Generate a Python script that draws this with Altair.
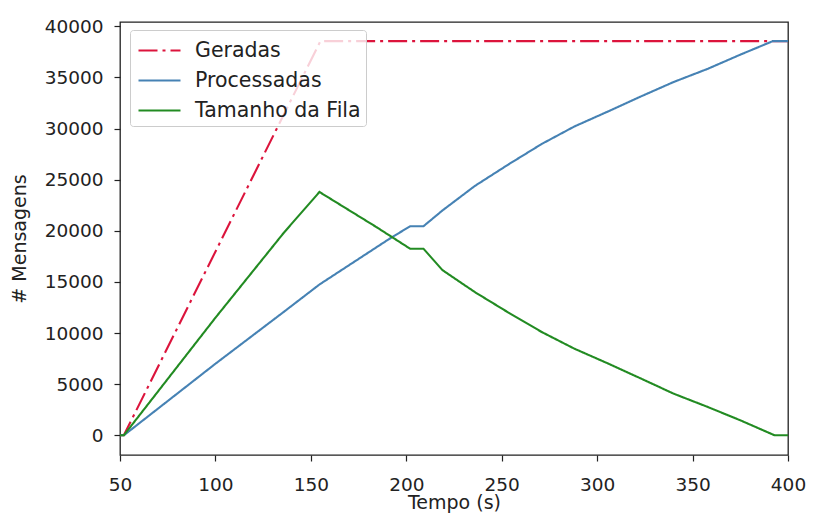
import altair as alt
import pandas as pd

series_names = ["Geradas", "Processadas", "Tamanho da Fila"]
series_colors = ["#DC143C", "#4682B4", "#228B22"]

t_geradas = [50, 52, 155, 400]
v_geradas = [0, 0, 38550, 38550]

t_processadas = [50, 52, 100, 136, 154.5, 191, 202, 209, 219, 236, 254, 271,
                 288, 306, 323, 340, 358, 375, 392, 400]
v_processadas = [0, 0, 7000, 12100, 14750, 19200, 20450, 20450, 22000, 24400,
                 26550, 28500, 30200, 31700, 33150, 34550, 35850, 37230, 38550, 38550]

t_fila = [50, 52, 100, 136, 154.5, 184.5, 202, 209, 219, 236, 254, 271, 288,
          306, 323, 340, 358, 375, 393, 400]
v_fila = [0, 0, 11500, 19850, 23800, 20350, 18250, 18250, 16150, 14000, 11950,
          10100, 8480, 7000, 5550, 4080, 2770, 1470, 0, 0]

x_ticks = [50, 100, 150, 200, 250, 300, 350, 400]
y_ticks = [0, 5000, 10000, 15000, 20000, 25000, 30000, 35000, 40000]

rows = []
for name, ts, vs in [("Geradas", t_geradas, v_geradas),
                     ("Processadas", t_processadas, v_processadas),
                     ("Tamanho da Fila", t_fila, v_fila)]:
    for i, (t, v) in enumerate(zip(ts, vs)):
        rows.append({"serie": name, "tempo": t, "msgs": v, "ordem": i})
df = pd.DataFrame(rows)

FONT = "DejaVu Sans"

legend = alt.Legend(
    title=None,
    orient="none",
    legendX=10,
    legendY=8,
    symbolType="M-1.5,0H1.5",
    symbolSize=784,
    symbolStrokeWidth=2.2,
    symbolOffset=9,
    labelFont=FONT,
    labelFontSize=20.5,
    labelColor="#222222",
    labelLimit=400,
    labelOffset=20,
    rowPadding=4,
    padding=5,
    strokeColor="#cccccc",
    fillColor="rgba(255,255,255,0.8)",
    cornerRadius=3,
)

chart = alt.Chart(df).mark_line(strokeWidth=2.1, clip=True).encode(
    x=alt.X("tempo:Q",
            scale=alt.Scale(domain=[50, 400], nice=False, zero=False),
            axis=alt.Axis(title="Tempo (s)", values=x_ticks, format="d",
                          labelFlush=False)),
    y=alt.Y("msgs:Q",
            scale=alt.Scale(domain=[-1925, 40425], nice=False, zero=False),
            axis=alt.Axis(title="# Mensagens", values=y_ticks, format="d",
                          labelFlush=False)),
    color=alt.Color("serie:N",
                    scale=alt.Scale(domain=series_names, range=series_colors),
                    legend=legend),
    strokeDash=alt.StrokeDash("serie:N",
                              scale=alt.Scale(domain=series_names,
                                              range=[[19, 5, 3, 5], [1, 0], [1, 0]]),
                              legend=legend),
    order="ordem:Q",
).properties(
    width=668,
    height=433,
    autosize=alt.AutoSizeParams(type="none"),
    padding={"left": 112, "top": 14, "right": 18, "bottom": 60},
    background="white",
).configure_view(
    stroke="#222222",
    strokeWidth=1.3,
).configure_axis(
    grid=False,
    domain=False,
    labelFont=FONT,
    labelFontSize=18.5,
    labelColor="#222222",
    titleFont=FONT,
    titleFontSize=19,
    titleFontWeight="normal",
    titleColor="#222222",
    tickSize=6,
    tickColor="#222222",
    tickWidth=1.2,
).configure_axisX(
    labelPadding=14,
    titlePadding=0,
).configure_axisY(
    labelPadding=11,
    titlePadding=15,
)

chart.save("out.html", embed_options={"renderer": "svg", "actions": False})
